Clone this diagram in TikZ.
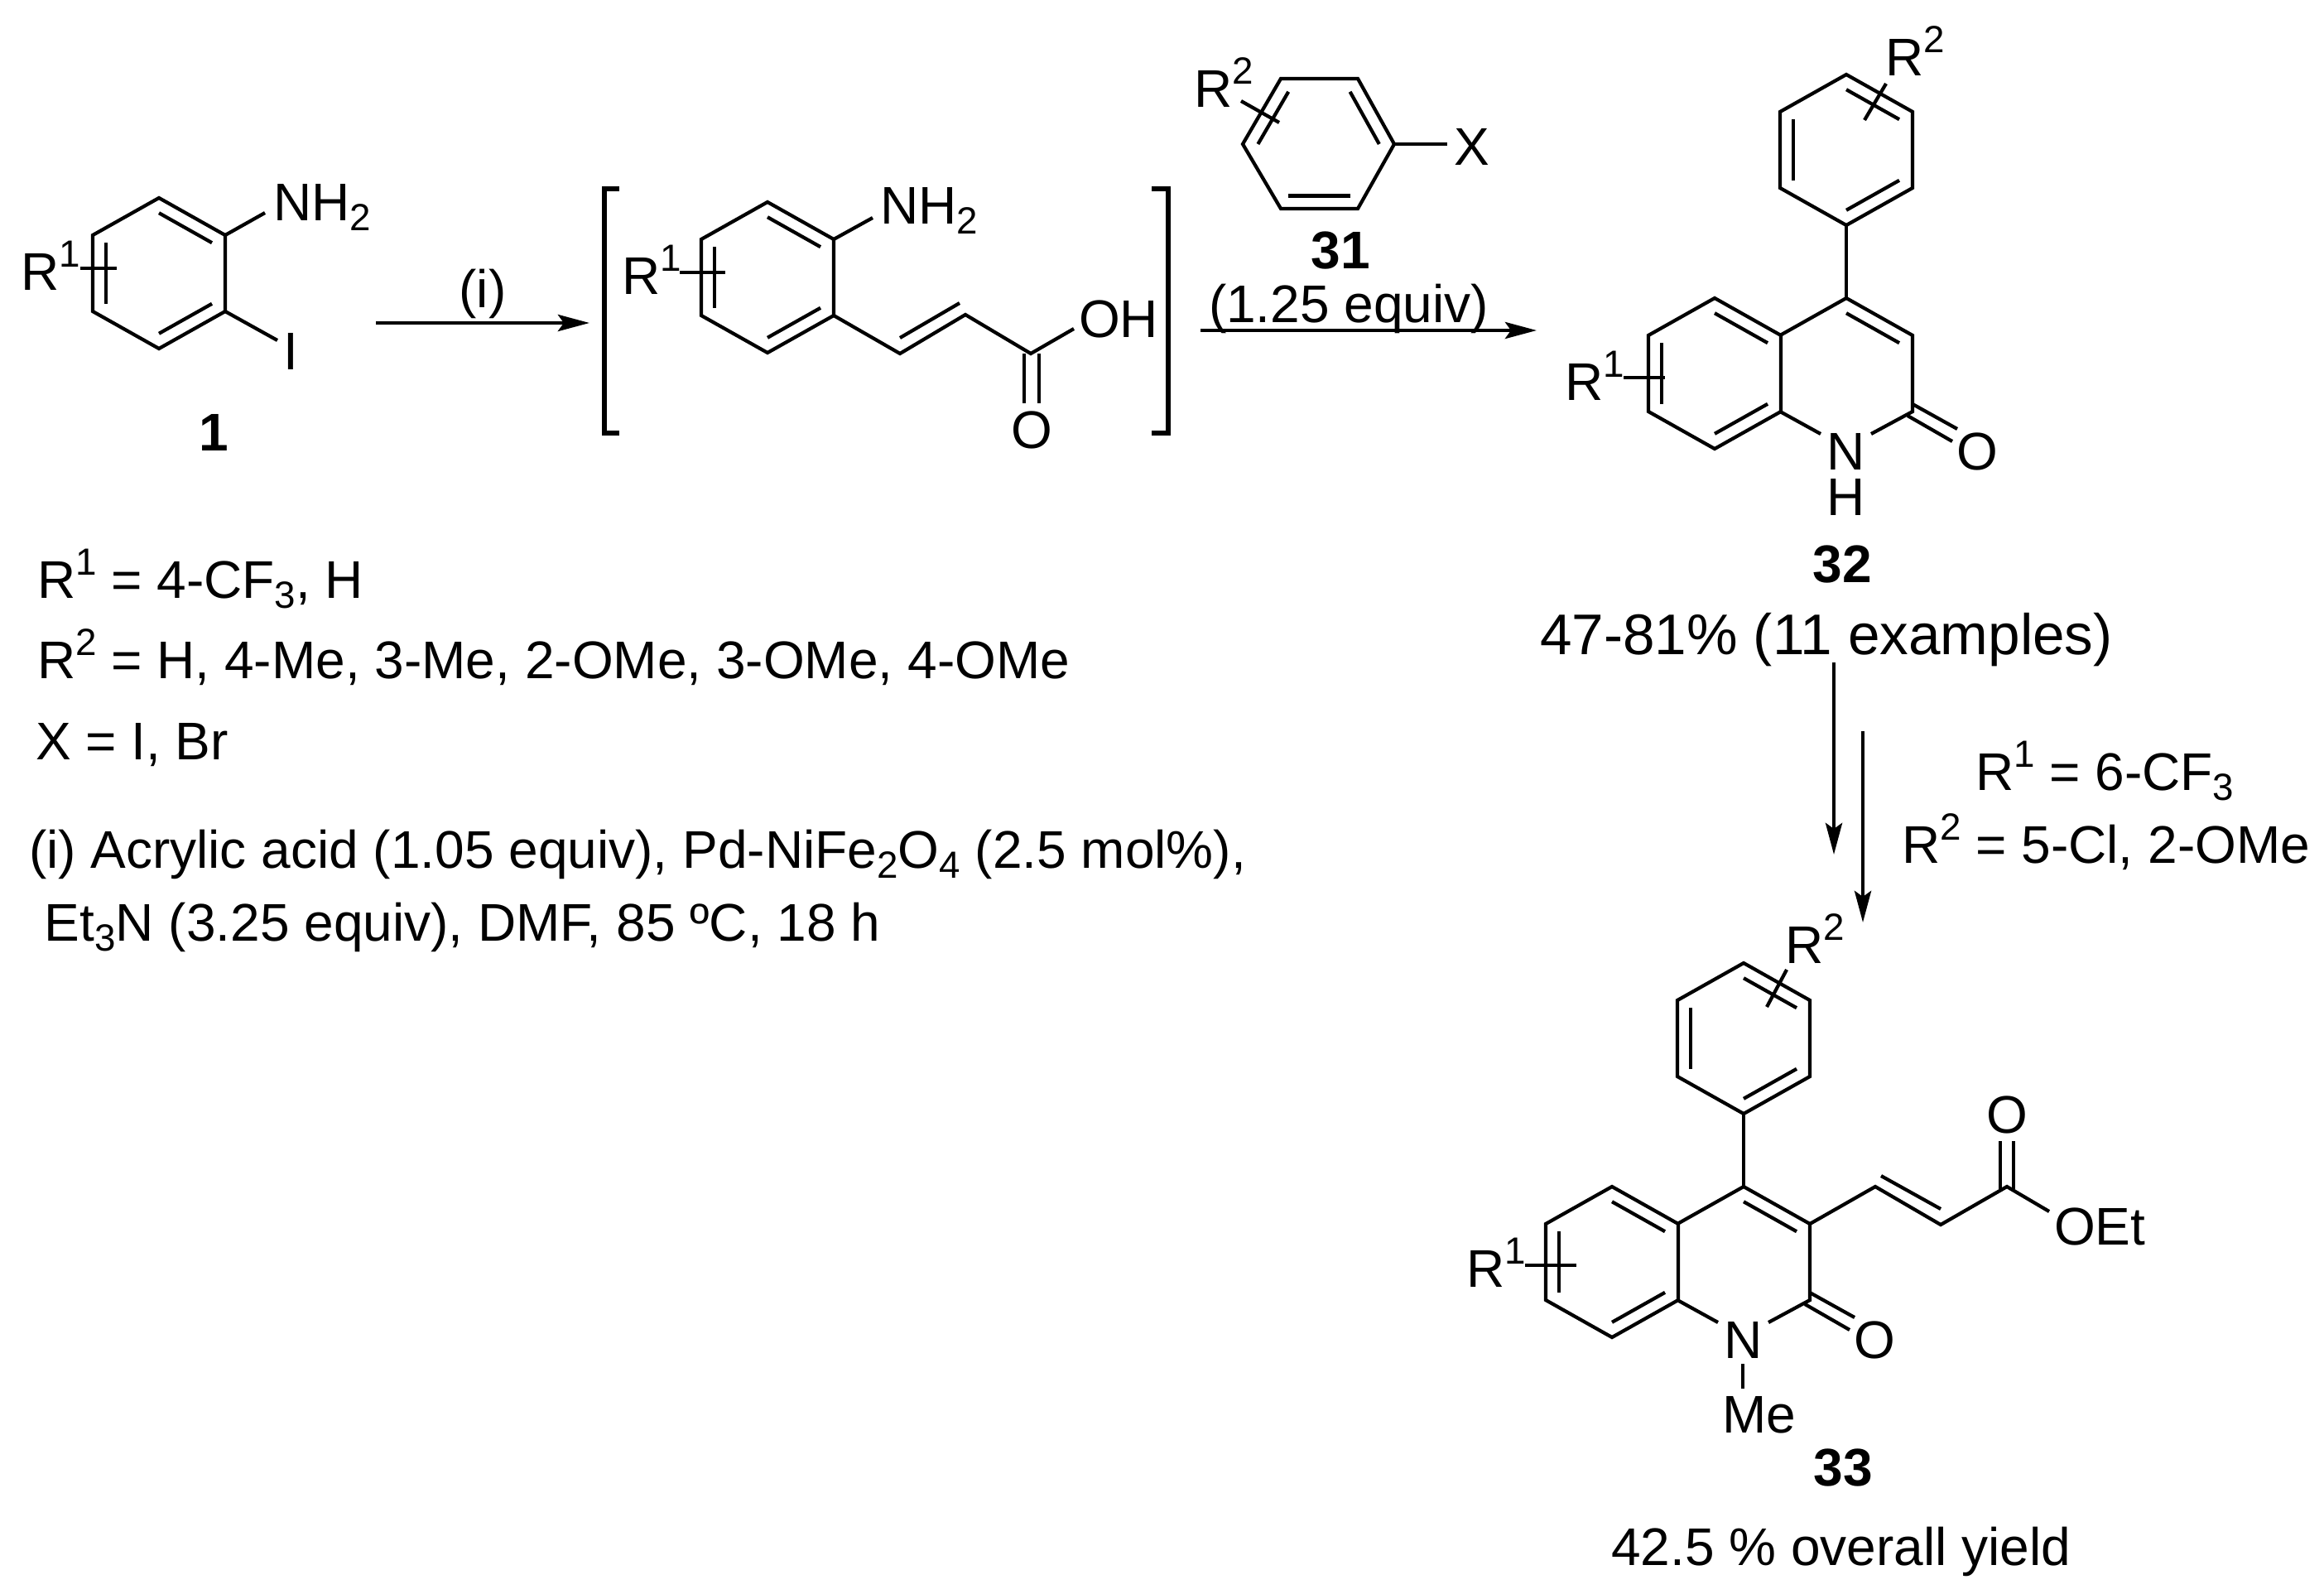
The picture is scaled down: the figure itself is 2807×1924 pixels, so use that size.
\documentclass[tikz,border=0pt]{standalone}
\usepackage{fontspec}
\setmainfont{Liberation Sans}
\usetikzlibrary{arrows.meta}
\usetikzlibrary{calc}
\tikzset{
	bond/.style={line width=1.2pt, line join=miter},
	rxn/.style={line width=1.3pt, -{Stealth[length=0.38cm, width=0.2cm, inset=0.07cm]}},
	brack/.style={line width=1.5pt},
	lab/.style={inner sep=0pt, outer sep=0pt, anchor=base west, font=\fontsize{18.2}{20}\selectfont},
	atom/.style={inner sep=0pt, outer sep=0pt, anchor=center, font=\fontsize{18.2}{20}\selectfont},
	num/.style={inner sep=0pt, outer sep=0pt, anchor=center, font=\fontsize{18.2}{20}\selectfont\bfseries}
}
\newcommand{\sups}[1]{\raisebox{0.43em}{\fontsize{13}{13}\selectfont #1}}
\newcommand{\subs}[1]{\raisebox{-0.2em}{\fontsize{13}{13}\selectfont #1}}
\newcommand{\ringpts}[3]{
	\coordinate (#1-c) at (#2,#3);
	\coordinate (#1-1) at (#2,#3-91);
	\coordinate (#1-2) at (#2+80,#3-46);
	\coordinate (#1-3) at (#2+80,#3+46);
	\coordinate (#1-4) at (#2,#3+91);
	\coordinate (#1-5) at (#2-80,#3+46);
	\coordinate (#1-6) at (#2-80,#3-46);
}
\newcommand{\ringdraw}[1]{\draw[bond] (#1-1) -- (#1-2) -- (#1-3) -- (#1-4) -- (#1-5) -- (#1-6) -- cycle;}
\newcommand{\inbond}[3]{\draw[bond] ($(#1-c)!0.8!(#1-#2)$) -- ($(#1-c)!0.8!(#1-#3)$);}
\newcommand{\quinolone}[1]{
	\ringpts{#1l}{2071}{451}
	\ringpts{#1r}{2230}{451}
	\ringpts{#1u}{2230}{181}
	\ringdraw{#1l}
	\ringdraw{#1u}
	\inbond{#1l}{1}{2}
	\inbond{#1l}{3}{4}
	\inbond{#1l}{5}{6}
	\inbond{#1r}{1}{2}
	\inbond{#1u}{1}{2}
	\inbond{#1u}{3}{4}
	\inbond{#1u}{5}{6}
	\node[atom] (#1N) at (2230,545) {N};
	\node[atom] (#1O) at (2388,545) {O};
	\coordinate (#1na) at (2199,524);
	\coordinate (#1nb) at (2260,524);
	\coordinate (#1oa) at (2364,518);
	\coordinate (#1ob) at (2358,533);
	\coordinate (#1oc) at (2304,502);
	\coordinate (#1od) at (2310,488);
	\draw[bond] (#1na) -- (#1r-5);
	\draw[bond] (#1r-6) -- (#1r-1) -- (#1r-2) -- (#1r-3) -- (#1nb);
	\draw[bond] (#1u-4) -- (#1r-1);
	\draw[bond] (#1od) -- (#1oa);
	\draw[bond] (#1oc) -- (#1ob);
}
\begin{document}
\begin{tikzpicture}[x=0.01cm,y=-0.01cm]
\useasboundingbox (0,0) rectangle (2807,1924);

\ringpts{a}{192}{330}
\ringdraw{a}
\inbond{a}{1}{2}
\inbond{a}{3}{4}
\inbond{a}{5}{6}
\node[lab] (nh2a) at (330,266) {NH\subs{2}};
\node[atom] (ia) at (351,424) {I};
\node[lab] (r1a) at (25,350) {R\sups{1}};
\node[num] (n1) at (258,522) {1};
\coordinate (nh2as) at (320,257);
\coordinate (ias) at (335,411);
\coordinate (r1as) at (97,324);
\coordinate (r1ae) at (141,324);
\draw[bond] (a-2) -- (nh2as);
\draw[bond] (a-3) -- (ias);
\draw[bond] (r1as) -- (r1ae);

\coordinate (ar1) at (454,390);
\coordinate (ar2) at (712,390);
\draw[rxn] (ar1) -- (ar2);
\node[lab, anchor=base] (cond) at (583,371) {(i)};

\draw[brack] (748,228) -- (730,228) -- (730,523) -- (748,523);
\draw[brack] (1391,228) -- (1411,228) -- (1411,523) -- (1391,523);

\ringpts{b}{927}{335}
\ringdraw{b}
\inbond{b}{1}{2}
\inbond{b}{3}{4}
\inbond{b}{5}{6}
\node[lab] (nh2b) at (1063,270) {NH\subs{2}};
\node[lab] (r1b) at (751,355) {R\sups{1}};
\node[lab] (oh) at (1303,407) {OH};
\node[atom] (ob) at (1246,519) {O};
\coordinate (nh2bs) at (1054,263);
\coordinate (r1bs) at (821,329);
\coordinate (r1be) at (876,329);
\coordinate (ch1) at (1087,427);
\coordinate (ch2) at (1166,380);
\coordinate (ch3) at (1245,427);
\coordinate (ohs) at (1297,397);
\coordinate (ch1i) at (1087,408);
\coordinate (ch2i) at (1159,366);
\coordinate (coa) at (1237,427);
\coordinate (cob) at (1237,487);
\coordinate (coc) at (1255,427);
\coordinate (cod) at (1255,487);
\draw[bond] (b-2) -- (nh2bs);
\draw[bond] (r1bs) -- (r1be);
\draw[bond] (b-3) -- (ch1) -- (ch2) -- (ch3) -- (ohs);
\draw[bond] (ch1i) -- (ch2i);
\draw[bond] (coa) -- (cob);
\draw[bond] (coc) -- (cod);

\coordinate (c-c) at (1593,174);
\coordinate (c-1) at (1547,95);
\coordinate (c-2) at (1640,95);
\coordinate (c-3) at (1684,174);
\coordinate (c-4) at (1640,252);
\coordinate (c-5) at (1547,252);
\coordinate (c-6) at (1501,174);
\ringdraw{c}
\inbond{c}{2}{3}
\inbond{c}{4}{5}
\inbond{c}{6}{1}
\node[atom] (x) at (1778,177) {X};
\node[lab] (r2c) at (1442,129) {R\sups{2}};
\node[num] (n31) at (1619,303) {31};
\node[lab] (equiv) at (1460,389) {(1.25 equiv)};
\coordinate (xs) at (1748,174);
\coordinate (r2cs) at (1499,122);
\coordinate (r2ce) at (1545,148);
\draw[bond] (c-3) -- (xs);
\draw[bond] (r2cs) -- (r2ce);

\coordinate (ar3) at (1450,399);
\coordinate (ar4) at (1856,399);
\draw[rxn] (ar3) -- (ar4);

\quinolone{d}
\node[atom] (hd) at (2230,600) {H};
\node[lab] (r2d) at (2277,91) {R\sups{2}};
\node[lab] (r1d) at (1890,483) {R\sups{1}};
\node[num] (n32) at (2225,682) {32};
\node[lab, font=\fontsize{19.7}{20}\selectfont] (yd) at (1860,790) {47-81\% (11 examples)};
\coordinate (r2ds) at (2278,101);
\coordinate (r2de) at (2252,145);
\coordinate (r1ds) at (1961,456);
\coordinate (r1de) at (2011,456);
\draw[bond] (r2ds) -- (r2de);
\draw[bond] (r1ds) -- (r1de);

\coordinate (ar5) at (2215,800);
\coordinate (ar6) at (2215,1032);
\coordinate (ar7) at (2250,883);
\coordinate (ar8) at (2250,1114);
\draw[rxn] (ar5) -- (ar6);
\draw[rxn] (ar7) -- (ar8);
\node[lab] (r1n) at (2386,954) {R\sups{1} = 6-CF\subs{3}};
\node[lab] (r2n) at (2297,1042) {R\sups{2} = 5-Cl, 2-OMe};

\begin{scope}[shift={(-124,1073)}]
\quinolone{e}
\end{scope}
\node[lab] (me) at (2080,1730) {Me};
\node[lab] (r2e) at (2156,1163) {R\sups{2}};
\node[lab] (r1e) at (1771,1554) {R\sups{1}};
\node[lab] (oet) at (2481,1503) {OEt};
\node[atom] (oe) at (2424,1346) {O};
\node[num] (n33) at (2226,1772) {33};
\node[lab] (ye) at (1946,1890) {42.5 \% overall yield};
\coordinate (mes) at (2105,1647);
\coordinate (mee) at (2105,1677);
\coordinate (r2es) at (2158,1171);
\coordinate (r2ee) at (2134,1216);
\coordinate (r1es) at (1842,1528);
\coordinate (r1ee) at (1904,1528);
\coordinate (ce1) at (2265,1433);
\coordinate (ce2) at (2344,1479);
\coordinate (ce3) at (2424,1433);
\coordinate (oets) at (2475,1463);
\coordinate (ce1i) at (2272,1420);
\coordinate (ce2i) at (2344,1460);
\coordinate (coe) at (2416,1436);
\coordinate (cof) at (2416,1378);
\coordinate (cog) at (2432,1436);
\coordinate (coh) at (2432,1378);
\draw[bond] (mes) -- (mee);
\draw[bond] (r2es) -- (r2ee);
\draw[bond] (r1es) -- (r1ee);
\draw[bond] (er-2) -- (ce1) -- (ce2) -- (ce3) -- (oets);
\draw[bond] (ce1i) -- (ce2i);
\draw[bond] (coe) -- (cof);
\draw[bond] (cog) -- (coh);

\node[lab] (t1) at (45,722) {R\sups{1} = 4-CF\subs{3}, H};
\node[lab] (t2) at (45,819) {R\sups{2} = H, 4-Me, 3-Me, 2-OMe, 3-OMe, 4-OMe};
\node[lab] (t3) at (43,917) {X = I, Br};
\node[lab] (t4) at (35,1048) {(i) Acrylic acid (1.05 equiv), Pd-NiFe\subs{2}O\subs{4} (2.5 mol\%),};
\node[lab] (t5) at (54,1136) {Et\subs{3}N (3.25 equiv), DMF, 85 ºC, 18 h};
\end{tikzpicture}
\end{document}
